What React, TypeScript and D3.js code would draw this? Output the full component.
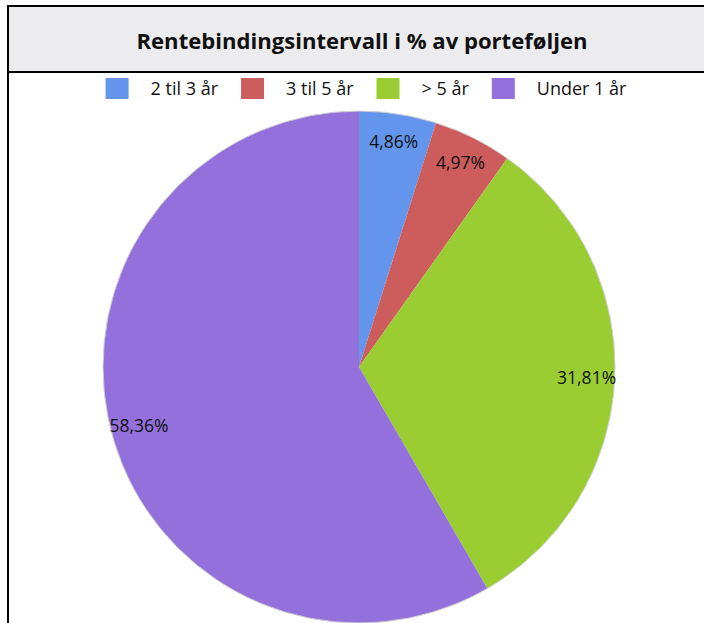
import React from "react";
import * as d3 from "d3";

// data
const categories = ["2 til 3 år", "3 til 5 år", "> 5 år", "Under 1 år"];
const values = [4.86, 4.97, 31.81, 58.36];
const labels = ["4,86%", "4,97%", "31,81%", "58,36%"];
const colors = ["#6495ED", "#CD5C5C", "#9ACD32", "#9370DB"];

const title = "Rentebindingsintervall i % av porteføljen";

const width = 704,
  height = 623;
const font = "'Open Sans', 'DejaVu Sans', sans-serif";
const legendSize = 18;

function textWidth(s: string, size: number) {
  const c = document.createElement("canvas").getContext("2d");
  if (!c) return s.length * size * 0.5;
  c.font = size + "px 'Open Sans'";
  return c.measureText(s).width;
}

export default function App() {
  const cx = 359,
    cy = 367,
    radius = 256;

  const pie = d3
    .pie<number>()
    .value((d) => d)
    .sort(null);
  const slices = pie(values);

  const arc = d3.arc<d3.PieArcDatum<number>>().innerRadius(0).outerRadius(radius);
  const labelArc = d3
    .arc<d3.PieArcDatum<number>>()
    .innerRadius(radius * 0.89)
    .outerRadius(radius * 0.89);

  // legend layout: swatch, gap, text, gap
  const sw = 23,
    gapText = 22,
    gapItem = 23;
  const widths = categories.map((c) => textWidth(c, legendSize));
  const total =
    d3.sum(widths) + categories.length * (sw + gapText) + (categories.length - 1) * gapItem;
  let x0 = 366 - total / 2;
  const legendX = widths.map((w) => {
    const x = x0;
    x0 += sw + gapText + w + gapItem;
    return x;
  });

  return (
    <svg
      width={width}
      height={height}
      style={{ position: "absolute", left: 0, top: 0, background: "#fff" }}
      fontFamily={font}
    >
      <rect x={8} y={6} width={720} height={700} fill="#fff" stroke="#000" strokeWidth={2} />
      <rect x={8} y={6} width={720} height={66} fill="#ECECEE" stroke="#000" strokeWidth={2} />
      <text
        x={362}
        y={49}
        textAnchor="middle"
        fontSize={22}
        fontWeight="bold"
        fill="#111"
        textLength={451}
        lengthAdjust="spacingAndGlyphs"
      >
        {title}
      </text>

      <g>
        {categories.map((c, i) => (
          <g key={c} transform={`translate(${legendX[i]},78)`}>
            <rect width={sw} height={21} fill={colors[i]} />
            <text x={sw + gapText} y={17} fontSize={legendSize} fill="#111">
              {c}
            </text>
          </g>
        ))}
      </g>

      <g transform={`translate(${cx},${cy})`}>
        {slices.map((s, i) => (
          <path key={i} d={arc(s) || ""} fill={colors[i]} />
        ))}
        <circle r={radius} fill="none" stroke="#cfcfcf" strokeWidth={1} />
        {slices.map((s, i) => {
          const [lx, ly] = labelArc.centroid(s);
          return (
            <text
              key={"l" + i}
              x={lx}
              y={ly}
              dy="0.35em"
              textAnchor="middle"
              fontSize={17.5}
              fill="#111"
            >
              {labels[i]}
            </text>
          );
        })}
      </g>
    </svg>
  );
}
